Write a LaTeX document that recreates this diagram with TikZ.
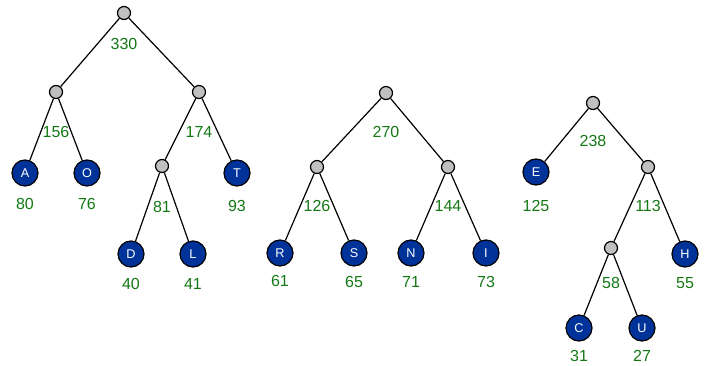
\documentclass[tikz,border=0pt]{standalone}
\usepackage{fontspec}
\setmainfont{Liberation Sans}
\definecolor{leafblue}{RGB}{0,51,153}
\definecolor{innergray}{RGB}{192,192,192}
\definecolor{weightgreen}{RGB}{20,120,20}
\begin{document}
\begin{tikzpicture}[
	x=0.75pt, y=-0.75pt,
	line width=0.9pt,
	inner/.style = {
		shape=circle, draw, fill=innergray,
		minimum size=9.75pt, inner sep=0pt},
	leaf/.style = {
		shape=circle, draw, fill=leafblue, text=white,
		minimum size=19.5pt, inner sep=0pt,
		font=\fontsize{9.5}{10}\selectfont},
	weight/.style = {
		text=weightgreen, inner sep=0pt,
		font=\fontsize{12}{12}\selectfont}]

	\useasboundingbox (0,0) rectangle (711,366);

	\node[inner] (n330) at (124,13) {};
	\node[inner] (n156) at (56,92) {};
	\node[inner] (n174) at (199,92) {};
	\node[inner] (n81) at (162,166) {};
	\node[leaf] (lA) at (25,173) {A};
	\node[leaf] (lO) at (87,173) {O};
	\node[leaf] (lT) at (237,173) {T};
	\node[leaf] (lD) at (131,254) {D};
	\node[leaf] (lL) at (193,254) {L};
	\draw (n330) -- (n156) (n330) -- (n174)
		(n156) -- (lA) (n156) -- (lO)
		(n174) -- (n81) (n174) -- (lT)
		(n81) -- (lD) (n81) -- (lL);
	\node[weight] (w330) at (124,44) {330};
	\node[weight] (w156) at (56,132) {156};
	\node[weight] (w174) at (199,132) {174};
	\node[weight] (w81) at (162,207) {81};
	\node[weight] (w80) at (25,204) {80};
	\node[weight] (w76) at (87,204) {76};
	\node[weight] (w93) at (237,206) {93};
	\node[weight] (w40) at (131,284) {40};
	\node[weight] (w41) at (193,284) {41};

	\node[inner] (n270) at (386,93) {};
	\node[inner] (n126) at (317,167) {};
	\node[inner] (n144) at (448,167) {};
	\node[leaf] (lR) at (280,253) {R};
	\node[leaf] (lS) at (354,253) {S};
	\node[leaf] (lN) at (411,253) {N};
	\node[leaf] (lI) at (486,253) {I};
	\draw (n270) -- (n126) (n270) -- (n144)
		(n126) -- (lR) (n126) -- (lS)
		(n144) -- (lN) (n144) -- (lI);
	\node[weight] (w270) at (386,132) {270};
	\node[weight] (w126) at (317,206) {126};
	\node[weight] (w144) at (448,206) {144};
	\node[weight] (w61) at (280,281) {61};
	\node[weight] (w65) at (354,282) {65};
	\node[weight] (w71) at (411,282) {71};
	\node[weight] (w73) at (486,282) {73};

	\node[inner] (n238) at (593,103) {};
	\node[inner] (n113) at (648,167) {};
	\node[inner] (n58) at (611,248) {};
	\node[leaf] (lE) at (536,172) {E};
	\node[leaf] (lH) at (685,254) {H};
	\node[leaf] (lC) at (579,328) {C};
	\node[leaf] (lU) at (642,328) {U};
	\draw (n238) -- (lE) (n238) -- (n113)
		(n113) -- (n58) (n113) -- (lH)
		(n58) -- (lC) (n58) -- (lU);
	\node[weight] (w238) at (593,141) {238};
	\node[weight] (w125) at (536,206) {125};
	\node[weight] (w113) at (648,206) {113};
	\node[weight] (w58) at (611,283) {58};
	\node[weight] (w55) at (685,283) {55};
	\node[weight] (w31) at (579,356) {31};
	\node[weight] (w27) at (642,356) {27};
\end{tikzpicture}
\end{document}
